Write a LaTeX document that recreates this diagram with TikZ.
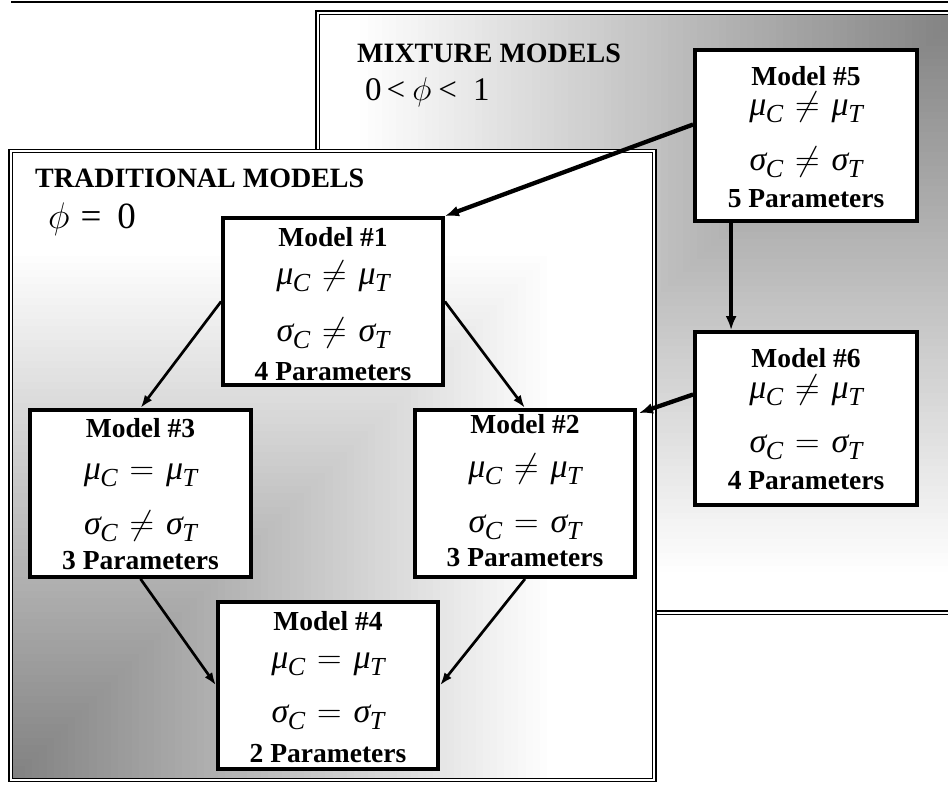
\RequirePackage{fix-cm}
\documentclass[tikz,border=0pt]{standalone}
\usepackage[no-math]{fontspec}
\setmainfont{Liberation Serif}
\usetikzlibrary{arrows.meta,calc}
\newcommand\gsub[1]{\raisebox{-7.5pt}{\fontsize{26}{26}\selectfont\itshape #1}}
\newcommand\mdleq[4]{{\itshape #1}\kern-0.5pt\gsub{#2}\hspace{12pt}#3\hspace{12pt}{\itshape #1}\kern-0.5pt\gsub{#4}}
\begin{document}
\begin{tikzpicture}[x=1pt,y=-1pt,
  mbox/.style={draw=black, line width=3.8pt, fill=white, minimum width=220pt, minimum height=167pt, inner sep=0pt},
  ttl/.style={font=\fontsize{27.5}{30}\selectfont\bfseries, inner sep=0pt, anchor=base},
  eqn/.style={font=\fontsize{34}{38}\selectfont, inner sep=0pt, anchor=base},
  head/.style={font=\fontsize{28}{30}\selectfont\bfseries, inner sep=0pt, anchor=base west},
  phil/.style={inner sep=0pt, anchor=base west},
  panelborder/.style={draw=black, line width=1.4pt, double=white, double distance=2pt},
  thickarr/.style={line width=4.3pt, -{Latex[length=14pt,width=11pt]}},
  thinarr/.style={line width=2.7pt, -{Latex[length=13pt,width=9pt]}}
]
\useasboundingbox (0,0) rectangle (948,787);
\fill[white] (0,0) rectangle (948,787);
\draw[line width=1.8pt] (11,1.8) -- (948,1.8);

% mixture panel (gradient from top-right corner)
\begin{scope}
  \clip (317.5,12.5) rectangle (962,612.5);
  \fill[white] (317.5,12.5) rectangle (962,612.5);
  \foreach \i in {90,89,...,1}{
    \pgfmathsetmacro\t{\i/90}
    \pgfmathsetmacro\p{max(0,49.8-52.9*\t)}
    \fill[black!\p] (962,12.5) rectangle (962-\t*644.5, 12.5+\t*600);
  }
\end{scope}
\draw[panelborder] (317.5,12.5) rectangle (962,612.5);

% traditional panel (gradient from bottom-left corner)
\begin{scope}
  \clip (10.8,151) rectangle (654.3,780);
  \fill[white] (10.8,151) rectangle (654.3,780);
  \foreach \i in {90,89,...,1}{
    \pgfmathsetmacro\t{\i/90}
    \pgfmathsetmacro\p{max(0,49.8-58.8*\t)}
    \fill[black!\p] (10.8,780) rectangle (10.8+\t*643.5, 780-\t*629);
  }
\end{scope}
\draw[panelborder] (10.8,151) rectangle (654.3,780);

% headings
\node[head] (hmix) at (357,62) {MIXTURE MODELS};
\node[phil, font=\fontsize{33}{36}\selectfont] (phimix) at (365,100) {0\hspace{5pt}<\hspace{7pt}$\phi$\hspace{7pt}<\hspace{16pt}1};
\node[head] (htrad) at (35,187) {TRADITIONAL MODELS};
\node[phil, font=\fontsize{37}{40}\selectfont] (phitrad) at (48,228) {$\phi$\hspace{11pt}=\hspace{16pt}0};

% model boxes
\node[mbox] (m1) at (333,301.5) {};
\node[mbox] (m2) at (525,493.5) {};
\node[mbox, minimum width=221pt] (m3) at (140.5,493.5) {};
\node[mbox] (m4) at (328,685.5) {};
\node[mbox, minimum width=222pt, minimum height=171pt] (m5) at (806,135.5) {};
\node[mbox, minimum width=222pt, minimum height=173pt] (m6) at (806,418.5) {};

% texts
\node[ttl] (m1t) at ($(m1.north)+(0,30)$) {Model \#1};
\node[eqn] (m1a) at ($(m1.north)+(0,68)$) {\mdleq{μ}{C}{$\neq$}{T}};
\node[eqn] (m1b) at ($(m1.north)+(0,125)$) {\mdleq{σ}{C}{$\neq$}{T}};
\node[ttl] (m1p) at ($(m1.north)+(0,164)$) {4 Parameters};

\node[ttl] (m2t) at ($(m2.north)+(0,25)$) {Model \#2};
\node[eqn] (m2a) at ($(m2.north)+(0,69)$) {\mdleq{μ}{C}{$\neq$}{T}};
\node[eqn] (m2b) at ($(m2.north)+(0,124)$) {\mdleq{σ}{C}{$=$}{T}};
\node[ttl] (m2p) at ($(m2.north)+(0,158)$) {3 Parameters};

\node[ttl] (m3t) at ($(m3.north)+(0,29)$) {Model \#3};
\node[eqn] (m3a) at ($(m3.north)+(0,71)$) {\mdleq{μ}{C}{$=$}{T}};
\node[eqn] (m3b) at ($(m3.north)+(0,126)$) {\mdleq{σ}{C}{$\neq$}{T}};
\node[ttl] (m3p) at ($(m3.north)+(0,161)$) {3 Parameters};

\node[ttl] (m4t) at ($(m4.north)+(0,30)$) {Model \#4};
\node[eqn] (m4a) at ($(m4.north)+(0,68)$) {\mdleq{μ}{C}{$=$}{T}};
\node[eqn] (m4b) at ($(m4.north)+(0,122)$) {\mdleq{σ}{C}{$=$}{T}};
\node[ttl] (m4p) at ($(m4.north)+(0,162)$) {2 Parameters};

\node[ttl] (m5t) at ($(m5.north)+(0,37)$) {Model \#5};
\node[eqn] (m5a) at ($(m5.north)+(0,67)$) {\mdleq{μ}{C}{$\neq$}{T}};
\node[eqn] (m5b) at ($(m5.north)+(0,122)$) {\mdleq{σ}{C}{$\neq$}{T}};
\node[ttl] (m5p) at ($(m5.north)+(0,159)$) {5 Parameters};

\node[ttl] (m6t) at ($(m6.north)+(0,37)$) {Model \#6};
\node[eqn] (m6a) at ($(m6.north)+(0,68)$) {\mdleq{μ}{C}{$\neq$}{T}};
\node[eqn] (m6b) at ($(m6.north)+(0,122)$) {\mdleq{σ}{C}{$=$}{T}};
\node[ttl] (m6p) at ($(m6.north)+(0,159)$) {4 Parameters};

% arrows
\draw[thickarr] ($(m5.west)+(0,-11)$) -- (m1.north east);
\draw[thickarr] ($(m5.south west)+(38,0)$) -- ($(m6.north west)+(38,0)$);
\draw[thickarr] ($(m6.west)+(0,-24)$) -- ($(m2.north east)+(2,5)$);
\draw[thinarr] (m1.west) -- (m3.north);
\draw[thinarr] (m1.east) -- (m2.north);
\draw[thinarr] (m3.south) -- (m4.west);
\draw[thinarr] (m2.south) -- (m4.east);
\end{tikzpicture}
\end{document}
